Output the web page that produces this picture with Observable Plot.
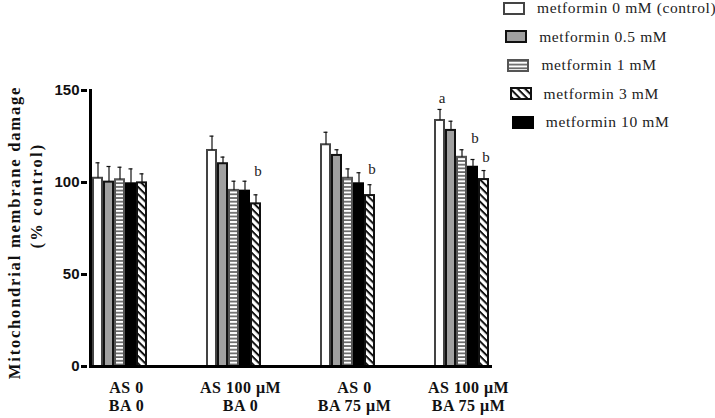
<!DOCTYPE html>
<html><head><meta charset="utf-8">
<script src="https://cdn.jsdelivr.net/npm/d3@7"></script>
<script src="https://cdn.jsdelivr.net/npm/@observablehq/plot@0.6"></script>
<style>
body{margin:0;background:#fff;}
#wrap{position:relative;width:715px;height:418px;overflow:hidden;}
.item{position:absolute;display:flex;align-items:center;font-family:"Liberation Serif",serif;font-size:15.5px;letter-spacing:0.6px;color:#222;white-space:nowrap;}
</style></head><body>
<svg width="0" height="0" style="position:absolute">
  <defs>
    <pattern id="hstripe" patternUnits="userSpaceOnUse" width="4" height="3.7">
      <rect width="4" height="3.7" fill="#fff"/><rect y="1.2" width="4" height="1.4" fill="#444"/>
    </pattern>
    <pattern id="diag" patternUnits="userSpaceOnUse" width="6" height="5.2" patternTransform="rotate(45)">
      <rect width="6" height="5.2" fill="#fff"/><rect y="0" width="6" height="2" fill="#111"/>
    </pattern>
  </defs>
</svg>
<div id="wrap"></div>
<script>
// ---- data ----
const groups = ["AS 0\nBA 0", "AS 100 μM\nBA 0", "AS 0\nBA 75 μM", "AS 100 μM\nBA 75 μM"];
const levels = ["metformin 0 mM (control)", "metformin 0.5 mM", "metformin 1 mM", "metformin 3 mM", "metformin 10 mM"];
const barOrder = ["metformin 0 mM (control)", "metformin 0.5 mM", "metformin 1 mM", "metformin 10 mM", "metformin 3 mM"];
const mean0  = [102.3, 117.4, 120.5, 133.7];
const mean05 = [100.2, 110.2, 114.7, 128.3];
const mean1  = [101.5,  95.7, 102.3, 113.7];
const mean3  = [ 99.8,  88.4,  92.9, 101.6];
const mean10 = [ 99.3,  95.3,  99.3, 108.3];
const sem0  = [8.4, 7.8, 6.8, 6.0];
const sem05 = [8.5, 3.6, 3.1, 5.0];
const sem1  = [6.8, 5.0, 5.1, 4.1];
const sem3  = [4.9, 4.9, 5.9, 4.9];
const sem10 = [8.1, 5.4, 6.0, 4.2];
const yTicks = [0, 50, 100, 150];
const letterGroup = [1, 2, 3, 3, 3];
const letterLevel = [3, 3, 0, 4, 3];
const letterText  = ["b", "b", "a", "b", "b"];
const letterY     = [106, 107, 146, 124, 114];
const yTitle1 = "Mitochondrial membrane damage";
const yTitle2 = "(% control)";

// ---- build table ----
const meansBy = [mean0, mean05, mean1, mean3, mean10];
const semsBy = [sem0, sem05, sem1, sem3, sem10];
const data = [];
levels.forEach((lv, li) => groups.forEach((g, gi) => data.push({group: g, level: lv, mean: meansBy[li][gi], sem: semsBy[li][gi]})));
const letters = letterText.map((t, i) => ({group: groups[letterGroup[i]], level: levels[letterLevel[i]], label: t, y: letterY[i]}));

const styles = {
  "metformin 0 mM (control)": {fill: "#fff", stroke: "#444"},
  "metformin 0.5 mM": {fill: "#a0a0a0", stroke: "#111"},
  "metformin 1 mM": {fill: "url(#hstripe)", stroke: "#555"},
  "metformin 3 mM": {fill: "url(#diag)", stroke: "#111"},
  "metformin 10 mM": {fill: "#000", stroke: "#000"}
};

const serif = "Liberation Serif, Times New Roman, serif";
const sans = "Liberation Sans, Arial, sans-serif";

const plot = Plot.plot({
  width: 715, height: 418,
  marginLeft: 86, marginRight: 212, marginTop: 90, marginBottom: 52,
  style: {background: "transparent", overflow: "visible"},
  fx: {domain: groups, paddingInner: 0.4904, paddingOuter: 0.0614, align: 0.21, label: null},
  x: {domain: barOrder, padding: 0, axis: null},
  y: {domain: [0, 150]},
  marks: [
    ...levels.map(lv => Plot.barY(data.filter(d => d.level === lv), {
      fx: "group", x: "level", y: "mean",
      fill: styles[lv].fill, stroke: styles[lv].stroke, strokeWidth: 2,
      insetLeft: 1, insetRight: 1
    })),
    Plot.ruleX(data, {fx: "group", x: "level", y1: "mean", y2: d => d.mean + d.sem, stroke: "#111", strokeWidth: 1.2}),
    Plot.tickY(data, {fx: "group", x: "level", y: d => d.mean + d.sem, stroke: "#111", strokeWidth: 1.2, insetLeft: 3.5, insetRight: 3.5}),
    Plot.text(letters, {fx: "group", x: "level", y: "y", text: "label", fontFamily: serif, fontSize: 15, fill: "#222", dx: 2}),
    Plot.axisFx({anchor: "bottom", tickSize: 0, tickPadding: 14, fontFamily: serif, fontWeight: "bold", fontSize: 16, fill: "#111", lineHeight: 1.1, dx: 7, label: null}),
    Plot.axisY({ticks: yTicks, tickSize: 6, tickPadding: 2, strokeWidth: 3, fontFamily: sans, fontWeight: "bold", fontSize: 15, fill: "#111", label: null, dx: -3}),
    Plot.frame({anchor: "left", facet: "super", stroke: "#000", strokeWidth: 3, strokeLinecap: "square"}),
    Plot.frame({anchor: "bottom", facet: "super", stroke: "#000", strokeWidth: 3, strokeLinecap: "square"}),
    Plot.text([yTitle1], {text: d => d, facet: "super", frameAnchor: "left", textAnchor: "middle", rotate: -90, dx: -76, dy: 4, fontFamily: serif, fontWeight: "bold", fontSize: 16.5, fill: "#111"}),
    Plot.text([yTitle2], {text: d => d, facet: "super", frameAnchor: "left", textAnchor: "middle", rotate: -90, dx: -54, dy: -33, fontFamily: serif, fontWeight: "bold", fontSize: 16.5, fill: "#111"})
  ]
});
const wrap = document.getElementById("wrap");
wrap.appendChild(plot);
const svgEl = plot.tagName.toLowerCase() === "svg" ? plot : plot.querySelector("svg");
svgEl.style.position = "absolute"; svgEl.style.left = "0"; svgEl.style.top = "0";
d3.select(svgEl).selectAll("text").each(function () {
  const t = this.textContent;
  if (t === yTitle1) this.style.letterSpacing = "1.8px";
  else if (t === yTitle2) this.style.letterSpacing = "2.2px";
  else if (t.startsWith("AS") || t.startsWith("BA")) this.style.letterSpacing = "0.5px";
});

// ---- legend ----
levels.forEach((lv, i) => {
  const item = document.createElement("div");
  item.className = "item";
  item.style.left = (503 + i * 2.2) + "px";
  item.style.top = (8 + i * 28.5 - 9) + "px";
  item.style.height = "18px";
  const sw = document.createElementNS("http://www.w3.org/2000/svg", "svg");
  sw.setAttribute("width", 22); sw.setAttribute("height", 13);
  sw.innerHTML = `<rect x="1" y="1" width="20" height="11" fill="${styles[lv].fill}" stroke="${styles[lv].stroke}" stroke-width="2"/>`;
  sw.style.marginRight = "12px";
  item.appendChild(sw);
  const tx = document.createElement("span");
  tx.textContent = lv;
  item.appendChild(tx);
  wrap.appendChild(item);
});
</script>
</body></html>
